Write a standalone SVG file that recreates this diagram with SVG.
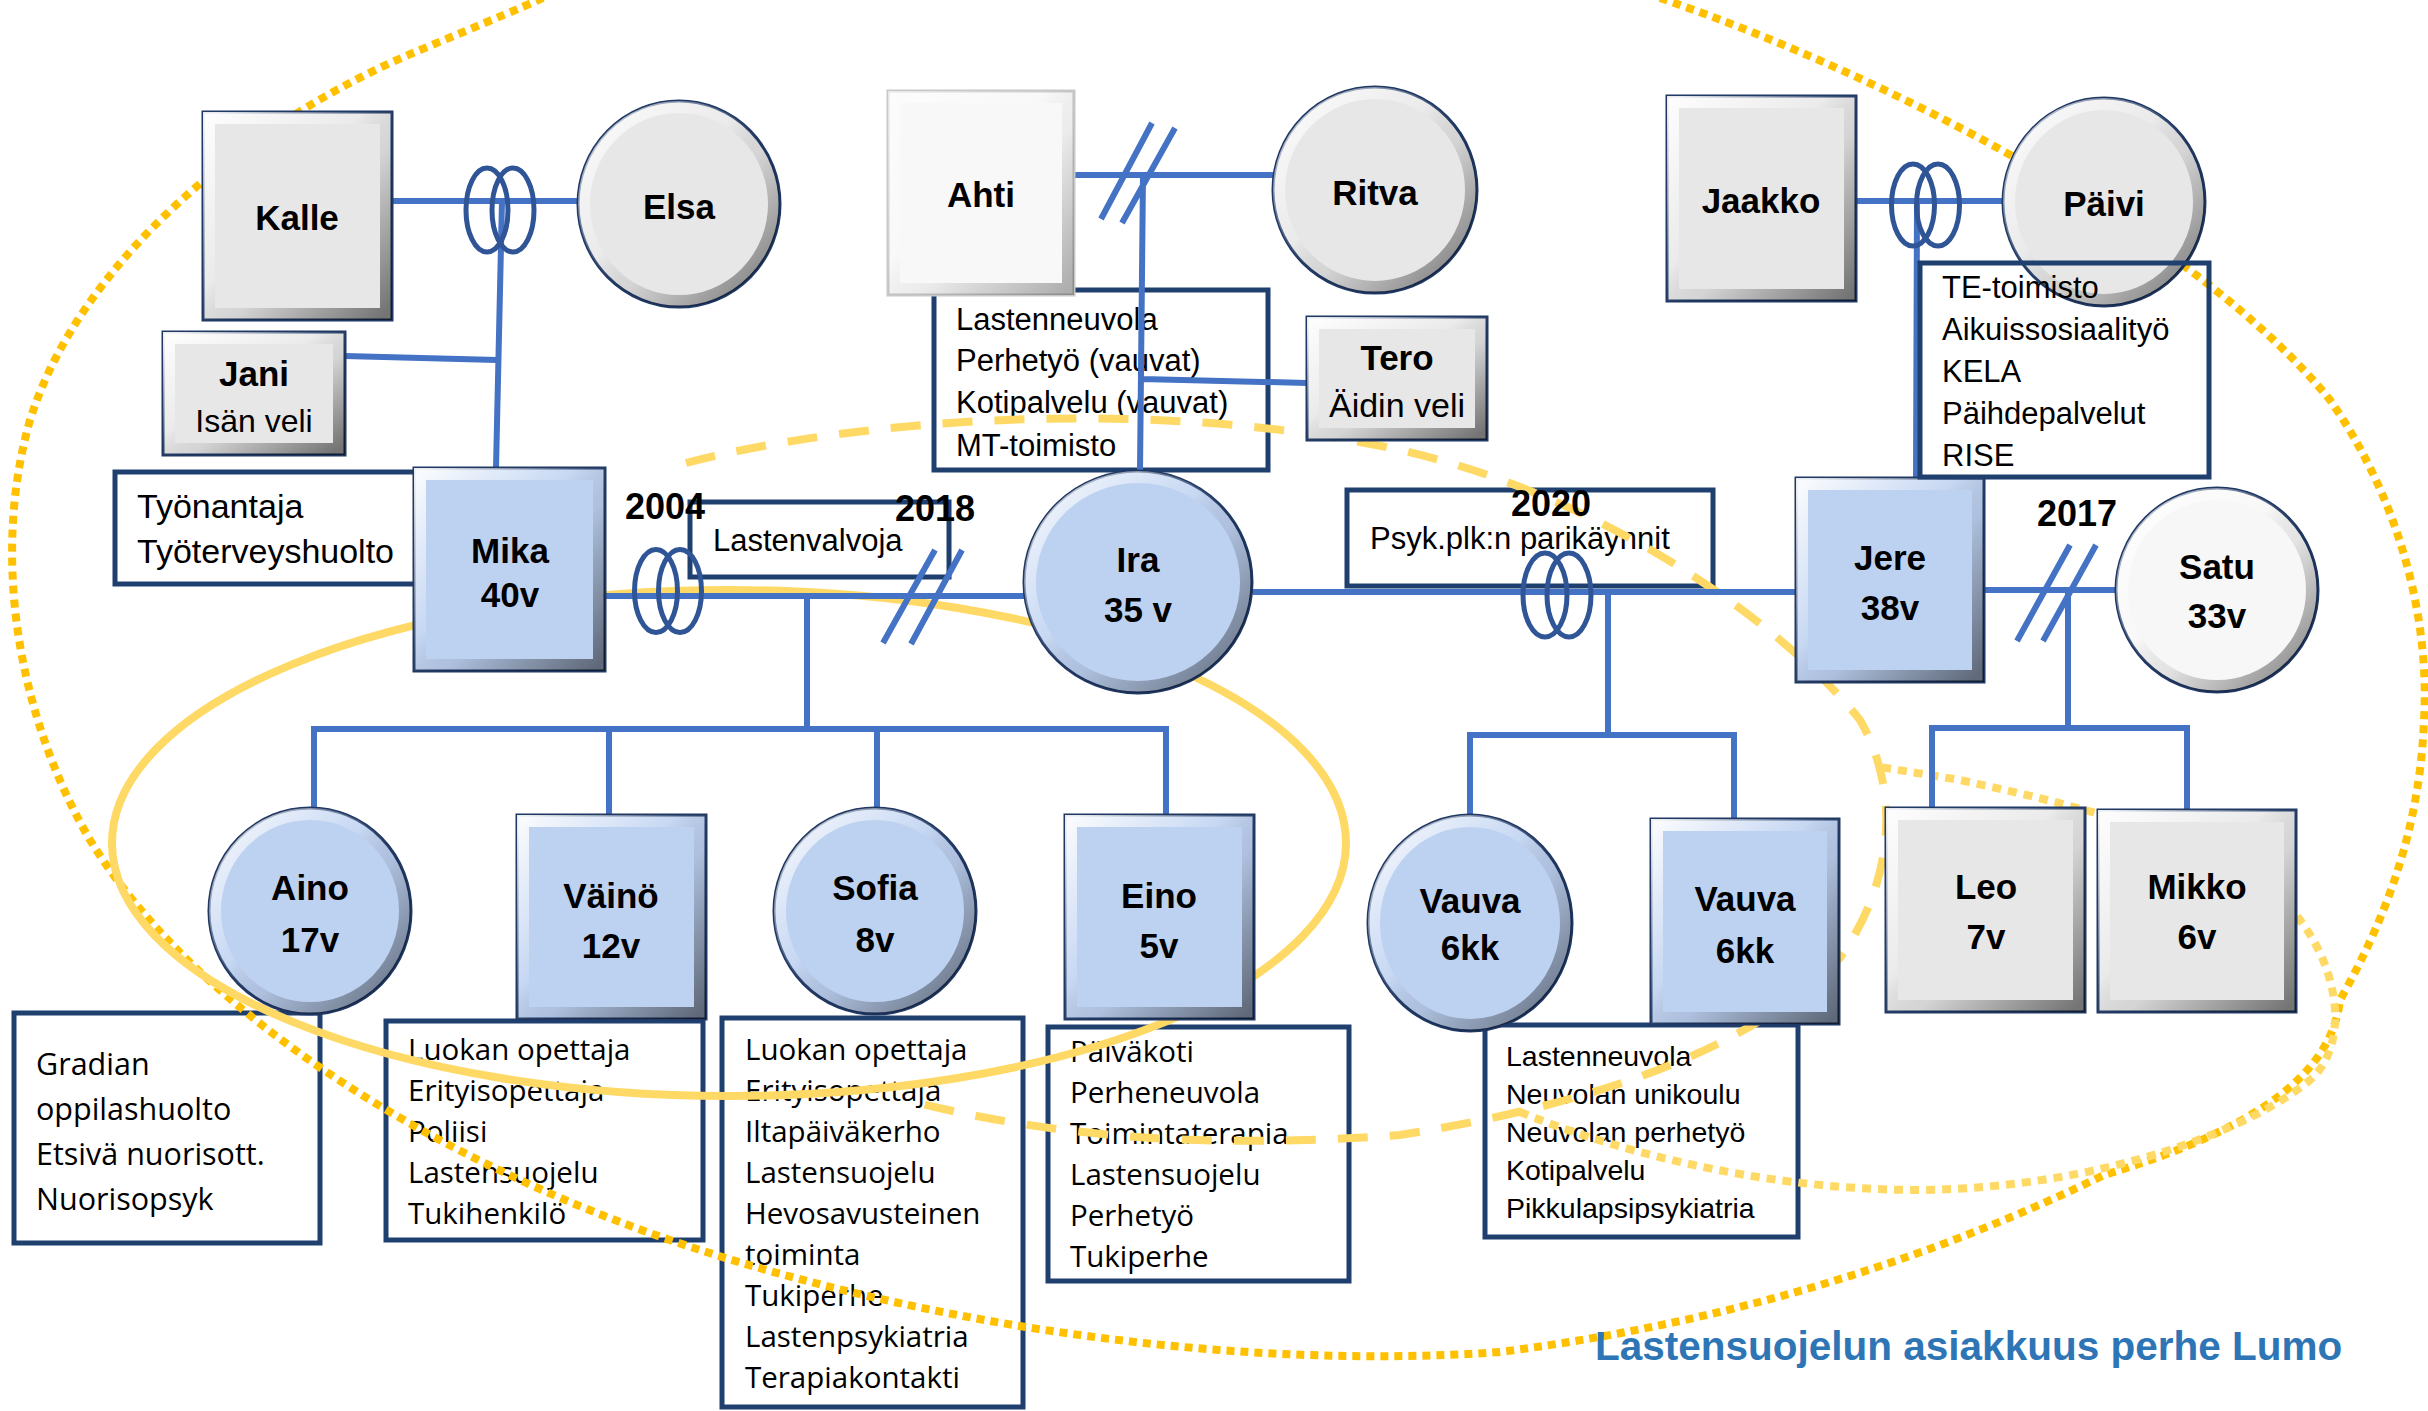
<svg xmlns="http://www.w3.org/2000/svg" width="2428" height="1411" viewBox="0 0 2428 1411">
<defs>
<linearGradient id="bev" x1="0" y1="0" x2="1" y2="1">
<stop offset="0" stop-color="#fff" stop-opacity="0.9"/>
<stop offset="0.42" stop-color="#fff" stop-opacity="0.15"/>
<stop offset="0.58" stop-color="#000" stop-opacity="0.08"/>
<stop offset="1" stop-color="#000" stop-opacity="0.5"/>
</linearGradient>
<style>
.ln{stroke:#4472C4;stroke-width:6;fill:none}
.rg{stroke:#2F5597;stroke-width:5;fill:none}
.bx{fill:none;stroke:#1F3F6E;stroke-width:5}
.nd{stroke:#203864;stroke-width:3}
.g{fill:#E7E7E7}.b{fill:#BDD1F1}.w{fill:#F7F7F7}
.bv{fill:none;stroke:url(#bev);stroke-width:12}
.nm{font-family:"Liberation Sans",Arial,sans-serif;font-weight:bold;font-size:35px;text-anchor:middle;fill:#000}
.sub{font-family:"Liberation Sans",Arial,sans-serif;font-size:33px;text-anchor:middle;fill:#000}
.sv{font-family:"Liberation Sans",Arial,sans-serif;font-size:31px;fill:#000}
.so{font-family:"Open Sans","Liberation Sans",sans-serif;font-size:29.5px;fill:#000}
.yr{font-family:"Liberation Sans",Arial,sans-serif;font-weight:bold;font-size:36px;text-anchor:middle;fill:#000}
.ttl{font-family:"Liberation Sans",Arial,sans-serif;font-weight:bold;font-size:40.5px;fill:#2E75B6}
.sol{fill:none;stroke:#FFD966;stroke-width:8}
.dsh{fill:none;stroke:#FFD966;stroke-width:8;stroke-dasharray:30 22}
.dot1{fill:none;stroke:#FFC000;stroke-width:8;stroke-dasharray:8 6}
.dot2{fill:none;stroke:#FFD966;stroke-width:8;stroke-dasharray:9 7}
</style>
</defs>
<rect width="2428" height="1411" fill="#fff"/>

<!-- service boxes -->
<g id="box-tyonantaja">
<rect x="115" y="472" width="303" height="112" class="bx"/>
<text class="sv" style="font-size:34px" x="137" y="518">Työnantaja</text>
<text class="sv" style="font-size:34px" x="137" y="563">Työterveyshuolto</text>
</g>
<g id="box-ahti">
<rect x="934" y="290" width="334" height="180" class="bx"/>
<text class="sv" x="956" y="330">Lastenneuvola</text>
<text class="sv" x="956" y="371">Perhetyö (vauvat)</text>
<text class="sv" x="956" y="413">Kotipalvelu (vauvat)</text>
<text class="sv" x="956" y="456">MT-toimisto</text>
</g>
<g id="box-lastenvalvoja">
<rect x="690" y="502" width="259" height="75" class="bx"/>
<text class="sv" x="713" y="551">Lastenvalvoja</text>
</g>
<g id="box-psyk">
<rect x="1347" y="490" width="366" height="96" class="bx"/>
<text class="sv" x="1370" y="549">Psyk.plk:n parikäynnit</text>
</g>
<g id="box-aino">
<rect x="14" y="1013" width="306" height="230" class="bx"/>
<text class="so" style="font-size:30.5px" x="36" y="1075">Gradian</text>
<text class="so" style="font-size:30.5px" x="36" y="1120">oppilashuolto</text>
<text class="so" style="font-size:30.5px" x="36" y="1165">Etsivä nuorisott.</text>
<text class="so" style="font-size:30.5px" x="36" y="1210">Nuorisopsyk</text>
</g>
<g id="box-vaino">
<rect x="386" y="1021" width="317" height="219" class="bx"/>
<text class="so" x="408" y="1060">Luokan opettaja</text>
<text class="so" x="408" y="1101">Erityisopettaja</text>
<text class="so" x="408" y="1142">Poliisi</text>
<text class="so" x="408" y="1183">Lastensuojelu</text>
<text class="so" x="408" y="1224">Tukihenkilö</text>
</g>
<g id="box-sofia">
<rect x="722" y="1018" width="301" height="389" class="bx"/>
<text class="so" x="745" y="1060">Luokan opettaja</text>
<text class="so" x="745" y="1101">Erityisopettaja</text>
<text class="so" x="745" y="1142">Iltapäiväkerho</text>
<text class="so" x="745" y="1183">Lastensuojelu</text>
<text class="so" x="745" y="1224">Hevosavusteinen</text>
<text class="so" x="745" y="1265">toiminta</text>
<text class="so" x="745" y="1306">Tukiperhe</text>
<text class="so" x="745" y="1347">Lastenpsykiatria</text>
<text class="so" x="745" y="1388">Terapiakontakti</text>
</g>
<g id="box-eino">
<rect x="1048" y="1027" width="301" height="254" class="bx"/>
<text class="so" x="1070" y="1062">Päiväkoti</text>
<text class="so" x="1070" y="1103">Perheneuvola</text>
<text class="so" x="1070" y="1144">Toimintaterapia</text>
<text class="so" x="1070" y="1185">Lastensuojelu</text>
<text class="so" x="1070" y="1226">Perhetyö</text>
<text class="so" x="1070" y="1267">Tukiperhe</text>
</g>
<g id="box-vauvat">
<rect x="1485" y="1025" width="313" height="212" class="bx"/>
<text class="sv" style="font-size:28.5px" x="1506" y="1066">Lastenneuvola</text>
<text class="sv" style="font-size:28.5px" x="1506" y="1104">Neuvolan unikoulu</text>
<text class="sv" style="font-size:28.5px" x="1506" y="1142">Neuvolan perhetyö</text>
<text class="sv" style="font-size:28.5px" x="1506" y="1180">Kotipalvelu</text>
<text class="sv" style="font-size:28.5px" x="1506" y="1218">Pikkulapsipsykiatria</text>
</g>

<!-- yellow boundary curves -->
<g id="boundaries">
<path class="dot1" d="M 1660 -2 C 1900 80, 2200 240, 2330 400 C 2400 500, 2430 620, 2424 720 C 2420 830, 2385 920, 2340 1000 C 2330 1090, 2220 1140, 2104 1175 C 1950 1250, 1750 1320, 1500 1352 C 1250 1370, 950 1330, 700 1250 C 450 1170, 200 1020, 90 840 C 20 720, -10 560, 30 420 C 80 260, 250 120, 420 50 C 480 25, 540 0, 560 -10"/>
<path class="dot2" d="M 1520 1112 C 1600 1145, 1750 1190, 1920 1190 C 2100 1188, 2250 1130, 2310 1080 C 2345 1050, 2345 980, 2300 920 C 2250 850, 2100 810, 1960 780 L 1880 767"/>
<path class="dsh" d="M 686 463 C 850 420, 1150 395, 1400 450 C 1600 495, 1780 620, 1860 720 C 1900 790, 1895 880, 1840 958 C 1760 1040, 1620 1100, 1400 1135 C 1200 1150, 1050 1135, 922 1104"/>
<ellipse class="sol" cx="729" cy="843" rx="617" ry="253"/>
</g>

<!-- connectors -->
<g id="connectors">
<path class="ln" d="M392 201 H578 M502 201 L496 468 M345 356 L497 360"/>
<path class="ln" d="M1074 175 H1273 M1143 175 L1140 471 M1142 379 L1307 383 M1152 123 L1101 219 M1175 128 L1122 223"/>
<path class="ln" d="M1856 201 H2003 M1917 201 L1916 478"/>
<path class="ln" d="M605 596 H1024 M935 550 L883 643 M962 550 L911 644"/>
<path class="ln" d="M807 596 V729 M311 729 H1169 M314 729 V808 M609 729 V815 M877 729 V809 M1166 729 V815"/>
<path class="ln" d="M1253 592 H1796 M1608 592 V735 M1467 735 H1737 M1470 735 V815 M1734 735 V820"/>
<path class="ln" d="M1984 590 H2116 M2070 545 L2017 641 M2096 545 L2043 641"/>
<path class="ln" d="M2068 590 V728 M1929 728 H2190 M1932 728 V808 M2187 728 V810"/>
<g id="rings">
<ellipse class="rg" cx="487" cy="210" rx="21" ry="42"/><ellipse class="rg" cx="513" cy="210" rx="21" ry="42"/>
<ellipse class="rg" cx="656" cy="591" rx="21.5" ry="41.5"/><ellipse class="rg" cx="680" cy="591" rx="21.5" ry="41.5"/>
<ellipse class="rg" cx="1545" cy="595" rx="22" ry="42"/><ellipse class="rg" cx="1569" cy="595" rx="22" ry="42"/>
<ellipse class="rg" cx="1913" cy="205" rx="21.5" ry="41"/><ellipse class="rg" cx="1938" cy="205" rx="21.5" ry="41"/>
</g>
</g>

<!-- person nodes -->
<g id="kalle"><rect x="203" y="112" width="189" height="208" class="nd g"/><rect x="209" y="118" width="177" height="196" class="bv"/><text class="nm" x="297" y="230">Kalle</text></g>
<g id="elsa"><ellipse cx="679" cy="204" rx="101" ry="103" class="nd g"/><ellipse cx="679" cy="204" rx="95" ry="97" class="bv"/><text class="nm" x="679" y="219">Elsa</text></g>
<g id="jani"><rect x="163" y="332" width="182" height="123" class="nd g"/><rect x="169" y="338" width="170" height="111" class="bv"/><text class="nm" x="254" y="386">Jani</text><text class="sub" style="font-size:32px" x="254" y="432">Isän veli</text></g>
<g id="mika"><rect x="414" y="468" width="191" height="203" class="nd b"/><rect x="420" y="474" width="179" height="191" class="bv"/><text class="nm" x="510" y="563">Mika</text><text class="nm" x="510" y="607">40v</text></g>
<g id="ahti"><rect x="888" y="91" width="186" height="204" fill="#F8F8F8" stroke="#C8C8C8" stroke-width="3"/><rect x="894" y="97" width="174" height="192" class="bv" opacity="0.6"/><text class="nm" x="981" y="207">Ahti</text></g>
<g id="ritva"><ellipse cx="1375" cy="190" rx="102" ry="103" class="nd g"/><ellipse cx="1375" cy="190" rx="96" ry="97" class="bv"/><text class="nm" x="1375" y="205">Ritva</text></g>
<g id="tero"><rect x="1307" y="317" width="180" height="123" class="nd g"/><rect x="1313" y="323" width="168" height="111" class="bv"/><text class="nm" x="1397" y="370">Tero</text><text class="sub" style="font-size:34px" x="1397" y="417">Äidin veli</text></g>
<g id="jaakko"><rect x="1667" y="96" width="189" height="205" class="nd g"/><rect x="1673" y="102" width="177" height="193" class="bv"/><text class="nm" x="1761" y="213">Jaakko</text></g>
<g id="paivi"><ellipse cx="2104" cy="202" rx="101" ry="104" class="nd g"/><ellipse cx="2104" cy="202" rx="95" ry="98" class="bv"/><text class="nm" x="2104" y="216">Päivi</text></g>
<g id="ira"><ellipse cx="1138" cy="582" rx="114" ry="111" class="nd b"/><ellipse cx="1138" cy="582" rx="108" ry="105" class="bv"/><text class="nm" x="1138" y="572">Ira</text><text class="nm" x="1138" y="622">35 v</text></g>
<g id="jere"><rect x="1796" y="478" width="188" height="204" class="nd b"/><rect x="1802" y="484" width="176" height="192" class="bv"/><text class="nm" x="1890" y="570">Jere</text><text class="nm" x="1890" y="620">38v</text></g>
<g id="satu"><ellipse cx="2217" cy="590" rx="101" ry="102" class="nd w"/><ellipse cx="2217" cy="590" rx="95" ry="96" class="bv"/><text class="nm" x="2217" y="579">Satu</text><text class="nm" x="2217" y="628">33v</text></g>
<g id="aino"><ellipse cx="310" cy="911" rx="101" ry="103" class="nd b"/><ellipse cx="310" cy="911" rx="95" ry="97" class="bv"/><text class="nm" x="310" y="900">Aino</text><text class="nm" x="310" y="952">17v</text></g>
<g id="vaino"><rect x="517" y="815" width="189" height="204" class="nd b"/><rect x="523" y="821" width="177" height="192" class="bv"/><text class="nm" x="611" y="908">Väinö</text><text class="nm" x="611" y="958">12v</text></g>
<g id="sofia"><ellipse cx="875" cy="911" rx="101" ry="103" class="nd b"/><ellipse cx="875" cy="911" rx="95" ry="97" class="bv"/><text class="nm" x="875" y="900">Sofia</text><text class="nm" x="875" y="952">8v</text></g>
<g id="eino"><rect x="1065" y="815" width="189" height="204" class="nd b"/><rect x="1071" y="821" width="177" height="192" class="bv"/><text class="nm" x="1159" y="908">Eino</text><text class="nm" x="1159" y="958">5v</text></g>
<g id="vauva-tytto"><ellipse cx="1470" cy="923" rx="102" ry="108" class="nd b"/><ellipse cx="1470" cy="923" rx="96" ry="102" class="bv"/><text class="nm" x="1470" y="913">Vauva</text><text class="nm" x="1470" y="960">6kk</text></g>
<g id="vauva-poika"><rect x="1651" y="819" width="188" height="205" class="nd b"/><rect x="1657" y="825" width="176" height="193" class="bv"/><text class="nm" x="1745" y="911">Vauva</text><text class="nm" x="1745" y="963">6kk</text></g>
<g id="leo"><rect x="1886" y="808" width="199" height="204" class="nd g"/><rect x="1892" y="814" width="187" height="192" class="bv"/><text class="nm" x="1986" y="899">Leo</text><text class="nm" x="1986" y="949">7v</text></g>
<g id="mikko"><rect x="2098" y="810" width="198" height="202" class="nd g"/><rect x="2104" y="816" width="186" height="190" class="bv"/><text class="nm" x="2197" y="899">Mikko</text><text class="nm" x="2197" y="949">6v</text></g>

<g id="box-jere">
<rect x="1920" y="263" width="289" height="214" class="bx"/>
<text class="sv" x="1942" y="298">TE-toimisto</text>
<text class="sv" x="1942" y="340">Aikuissosiaalityö</text>
<text class="sv" x="1942" y="382">KELA</text>
<text class="sv" x="1942" y="424">Päihdepalvelut</text>
<text class="sv" x="1942" y="466">RISE</text>
</g>

<g id="years">
<text class="yr" x="665" y="519">2004</text>
<text class="yr" x="935" y="521">2018</text>
<text class="yr" x="1551" y="516">2020</text>
<text class="yr" x="2077" y="526">2017</text>
</g>
<text id="title" class="ttl" x="1595" y="1360">Lastensuojelun asiakkuus perhe Lumo</text>
</svg>
